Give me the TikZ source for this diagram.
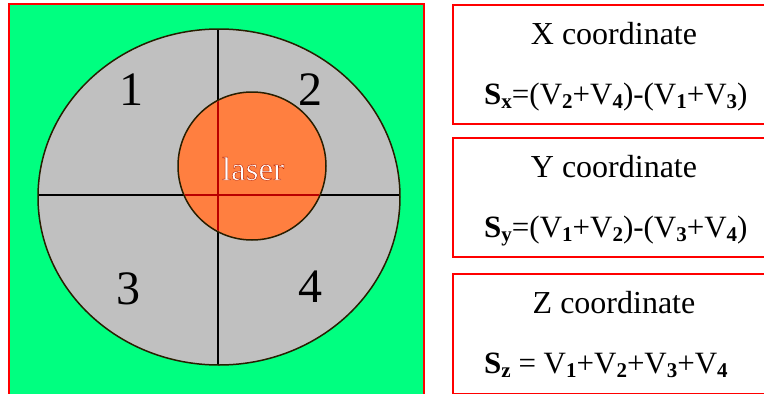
\documentclass[tikz,border=0pt]{standalone}
\usepackage{fontspec}
\setmainfont{Liberation Serif}
\usetikzlibrary{calc,positioning}
\definecolor{padgreen}{RGB}{0,255,128}
\definecolor{quadgray}{RGB}{192,192,192}
\definecolor{laserorange}{RGB}{255,127,64}
\definecolor{crossred}{RGB}{185,0,0}
\definecolor{boxred}{RGB}{255,0,0}
\definecolor{rimdark}{RGB}{40,30,0}
\tikzset{
    redframe/.style={
        draw=boxred,
        line width=2pt
    },
    coordbox/.style={
        redframe,
        minimum width=330pt,
        minimum height=119pt,
        anchor=north west,
        inner sep=0pt
    },
    % cross of the quadrant photodiode
    crossline/.style={
        line width=2pt,
        black
    },
    quadnum/.style={font=\fontsize{48}{48}\selectfont, inner sep=0pt},
    coordtitle/.style={font=\fontsize{32}{36}\selectfont, anchor=base, inner sep=0pt},
    coordformula/.style={font=\fontsize{31}{36}\selectfont, anchor=base west, inner sep=0pt},
    lasertext/.style={font=\fontsize{33}{36}\selectfont, anchor=base, inner sep=0pt, text=white}
}
\newcommand{\bsub}[1]{\raisebox{-0.3ex}{\fontsize{21}{24}\selectfont\textbf{#1}}}
% white letters with a red-orange rim
\newcommand{\glowtext}[1]{\special{pdf:literal direct 2 Tr 0.45 w 0.75 0.15 0 RG}#1\special{pdf:literal direct 0 Tr}}

\begin{document}
\begin{tikzpicture}[x=1pt,y=-1pt]
    \useasboundingbox (0,0) rectangle (764,394);
    \fill[white] (0,0) rectangle (764,394);

    \draw[redframe, fill=padgreen] (9,4) rectangle (424,400);

    \coordinate (c) at (219,197);
    \coordinate (spot) at (252,166);
    \fill[quadgray] (c) ellipse [x radius=181pt, y radius=168pt];

    \coordinate (vt) at (218,29);
    \coordinate (vb) at (218,365);
    \coordinate (hl) at (38,195);
    \coordinate (hr) at (400,195);
    \draw[crossline] (vt) -- (vb) (hl) -- (hr);

    \draw[line width=1.5pt, rimdark, fill=laserorange] (spot) circle (74pt);
    \begin{scope}
        \clip (spot) circle (73pt);
        \draw[crossline, crossred] (vt) -- (vb) (hl) -- (hr);
    \end{scope}
    \draw[line width=1.5pt, rimdark] (c) ellipse [x radius=181pt, y radius=168pt];

    \node[quadnum] (q1) at (131,90) {1};
    \node[quadnum] (q2) at (310,90) {2};
    \node[quadnum] (q3) at (128,289) {3};
    \node[quadnum] (q4) at (310,287) {4};

    \node[lasertext] (laser) at (253,180) {\glowtext{laser}};

    \node[coordbox] (xbox) at (452,4) {};
    \node[coordbox] (ybox) at (452,137) {};
    \node[coordbox, minimum height=120pt] (zbox) at (452,273) {};

    \node[coordtitle] (xtitle) at (614,44) {X coordinate};
    \node[coordformula] (xform) at (484,104) {\textbf{S}\bsub{x}=(V\bsub{2}+V\bsub{4})-(V\bsub{1}+V\bsub{3})};
    \node[coordtitle] (ytitle) at (614,177) {Y coordinate};
    \node[coordformula] (yform) at (484,237) {\textbf{S}\bsub{y}=(V\bsub{1}+V\bsub{2})-(V\bsub{3}+V\bsub{4})};
    \node[coordtitle] (ztitle) at (614,313) {Z coordinate};
    \node[coordformula] (zform) at (484,373) {\textbf{S}\bsub{z} = V\bsub{1}+V\bsub{2}+V\bsub{3}+V\bsub{4}};
\end{tikzpicture}
\end{document}
